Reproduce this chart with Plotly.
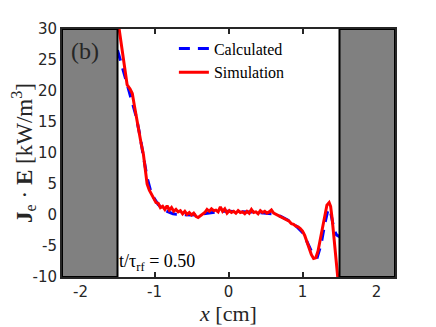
import plotly.graph_objects as go

# Simulation (red, noisy)
sim_x = [-1.49, -1.45, -1.40, -1.37, -1.33, -1.30, -1.27, -1.24, -1.21, -1.18,
         -1.15, -1.12, -1.10, -1.07, -1.04, -1.01, -0.98, -0.95, -0.92, -0.89,
         -0.86, -0.83, -0.80, -0.77, -0.74, -0.71, -0.68, -0.65, -0.62, -0.59,
         -0.56, -0.53, -0.50, -0.47, -0.44, -0.41, -0.38, -0.35, -0.32, -0.29,
         -0.26, -0.23, -0.20, -0.17, -0.14, -0.11, -0.08, -0.05, -0.02, 0.01,
         0.04, 0.07, 0.10, 0.13, 0.16, 0.19, 0.22, 0.25, 0.28, 0.31,
         0.34, 0.37, 0.40, 0.43, 0.46, 0.49, 0.52, 0.55, 0.58, 0.61,
         0.64, 0.67, 0.70, 0.73, 0.76, 0.79, 0.82, 0.85, 0.88, 0.91,
         0.94, 0.97, 1.00, 1.03, 1.06, 1.09, 1.12, 1.15, 1.18, 1.21,
         1.24, 1.27, 1.30, 1.33, 1.36, 1.38, 1.40, 1.42, 1.44, 1.46, 1.48]
sim_y = [31.0, 27.5, 23.5, 21.0, 20.3, 19.6, 17.5, 15.3, 13.0, 11.5,
         9.8, 6.5, 5.0, 4.0, 3.4, 2.6, 2.0, 1.9, 1.2, 1.4,
         0.9, 1.5, 0.8, 1.2, 0.6, 0.9, 0.5, 0.7, 0.2, 0.6,
         0.1, 0.4, 0.0, 0.3, -0.2, -0.4, -0.1, 0.2, 0.4, 0.9,
         0.6, 1.0, 0.7, 0.8, 0.5, 1.3, 0.6, 1.0, 0.3, 0.7,
         0.4, 0.6, 0.3, 0.7, 0.4, 0.5, 0.2, 0.6, 0.3, 0.9,
         0.4, 0.5, 0.2, 0.7, 0.4, 0.6, 0.3, 0.5, 0.8, 0.3,
         0.1, 0.0, -0.3, -0.4, -0.7, -0.9, -1.0, -1.4, -1.5, -1.8,
         -1.9, -2.2, -2.6, -3.3, -4.4, -5.5, -6.4, -7.0, -6.9, -5.8,
         -4.0, -1.8, 0.2, 1.6, 2.0, 1.4, -0.5, -2.8, -5.5, -8.3, -10.5]

# Calculated (blue, dashed)
calc_x = [-1.50, -1.45, -1.40, -1.35, -1.30, -1.25, -1.20, -1.15, -1.10, -1.05,
          -1.00, -0.95, -0.90, -0.85, -0.80, -0.75, -0.70, -0.60, -0.50, -0.40,
          -0.30, -0.20, -0.10, 0.00, 0.10, 0.20, 0.30, 0.40, 0.50, 0.60,
          0.70, 0.80, 0.90, 1.00, 1.05, 1.10, 1.15, 1.20, 1.25, 1.30,
          1.34, 1.37, 1.40, 1.43, 1.46, 1.50]
calc_y = [26.6, 24.5, 22.5, 20.5, 18.5, 16.0, 13.0, 9.5, 6.0, 3.8,
          2.6, 1.7, 1.1, 0.7, 0.4, 0.2, 0.1, 0.0, 0.0, 0.1,
          0.3, 0.5, 0.6, 0.6, 0.6, 0.5, 0.5, 0.4, 0.3, 0.2,
          -0.2, -0.8, -1.6, -2.8, -4.0, -5.4, -6.6, -6.8, -4.8, -1.5,
          0.6, 1.0, -0.5, -2.5, -3.2, -3.5]

x_ticks = [-2, -1, 0, 1, 2]
y_ticks = [-10, -5, 0, 5, 10, 15, 20, 25, 30]
wall_left = [-2.25, -1.5]
wall_right = [1.5, 2.25]

serif = "Liberation Serif, DejaVu Serif, serif"
sans = "DejaVu Sans, sans-serif"

fig = go.Figure()
fig.add_trace(go.Scatter(x=calc_x, y=calc_y, mode="lines", name="Calculated",
                         line=dict(color="#0000ff", width=3, dash="11px,8px")))
fig.add_trace(go.Scatter(x=sim_x, y=sim_y, mode="lines", name="Simulation",
                         line=dict(color="#ff0000", width=3)))

# electrode / wall regions
for x0, x1 in (wall_left, wall_right):
    fig.add_shape(type="rect", x0=x0, x1=x1, y0=-10, y1=30, xref="x", yref="y",
                  fillcolor="#808080", line=dict(color="black", width=2), layer="above")

fig.add_annotation(x=-2.15, y=28.8, xref="x", yref="y", text="(b)", showarrow=False,
                   xanchor="left", yanchor="top", font=dict(family=serif, size=24, color="#262626"))
fig.add_annotation(x=-1.51, y=-9.8, xref="x", yref="y", text="t/τ<sub>rf</sub> = 0.50",
                   showarrow=False, xanchor="left", yanchor="bottom",
                   font=dict(family=serif, size=18, color="black"))

fig.update_layout(
    width=436, height=327,
    margin=dict(l=54, r=49, t=21, b=58),
    plot_bgcolor="white", paper_bgcolor="white",
    showlegend=True,
    legend=dict(x=0.336, y=0.99, xanchor="left", yanchor="top",
                bgcolor="rgba(0,0,0,0)", font=dict(family=serif, size=16, color="black"),
                itemwidth=30, tracegroupgap=0),
    font=dict(family=sans, size=15, color="#262626"),
)
fig.update_xaxes(range=[-2.25, 2.25], tickvals=x_ticks, ticktext=[str(v) for v in x_ticks],
                 ticks="inside", ticklen=5, tickwidth=2, tickcolor="#262626",
                 showline=True, linecolor="#262626", linewidth=2, mirror="ticks",
                 showgrid=False, zeroline=False, automargin=False,
                 title=dict(text="<i>x</i> [cm]", font=dict(family=serif, size=22, color="#262626"),
                            standoff=3))
fig.update_yaxes(range=[-10, 30], tickvals=y_ticks, ticktext=[str(v) for v in y_ticks],
                 ticks="inside", ticklen=5, tickwidth=2, tickcolor="#262626",
                 showline=True, linecolor="#262626", linewidth=2, mirror="ticks",
                 showgrid=False, zeroline=False, automargin=False,
                 title=dict(text="<b>J</b><sub>e</sub> · <b>E</b> [kW/m<sup>3</sup>]",
                            font=dict(family=serif, size=23, color="#262626"), standoff=2))

fig.write_html("out.html")
